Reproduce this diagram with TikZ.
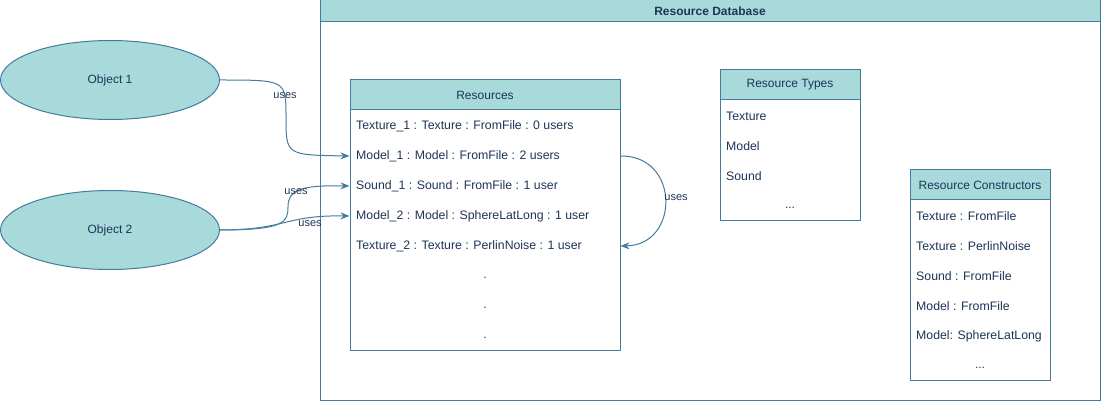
\documentclass[tikz,border=0pt]{standalone}
\usepackage{fontspec}
\setmainfont{Liberation Sans}
\usetikzlibrary{shapes.geometric, arrows.meta, positioning}
\definecolor{dbfill}{HTML}{A8DADC}
\definecolor{dbline}{HTML}{457B9D}
\definecolor{dbtext}{HTML}{1D3557}
\tikzset{
  box/.style={draw=dbline, line width=1pt, fill=white, inner sep=0pt},
  head/.style={draw=dbline, line width=1pt, fill=dbfill, text=dbtext, inner sep=0pt, font=\fontsize{12}{14}\selectfont},
  row/.style={anchor=west, text=dbtext, inner sep=0pt, font=\fontsize{12.3}{14}\selectfont},
  more/.style={text=dbtext, inner sep=0pt, font=\fontsize{12}{14}\selectfont},
  obj/.style={ellipse, draw=dbline, line width=1pt, fill=dbfill, text=dbtext, minimum width=219pt, minimum height=79pt, inner sep=0pt, font=\fontsize{12}{14}\selectfont},
  link/.style={draw=dbline, line width=1pt, -{Stealth[length=9pt,width=7pt]}},
  lbl/.style={text=dbtext, inner sep=0pt, font=\fontsize{11}{13}\selectfont}
}

\begin{document}
\begin{tikzpicture}[x=1pt, y=-1pt]
  \useasboundingbox (0,0) rectangle (1101,401);

  % database frame
  \node[box, minimum width=780pt, minimum height=400pt] (db) at (710,200) {};
  \node[head, minimum width=780pt, minimum height=22pt, anchor=north, font=\fontsize{12}{14}\selectfont\bfseries] (dbhead) at (db.north) {Resource Database};

  % objects
  \node[obj] (obj1) at (110,80) {Object 1};
  \node[obj] (obj2) at (110,230) {Object 2};

  % resources
  \node[box, minimum width=270pt, minimum height=270pt] (res) at (485,215) {};
  \node[head, minimum width=270pt, minimum height=30pt, anchor=north] (reshead) at (res.north) {Resources};
  \node[row] (r1) at (356,126) {Texture\_1 : Texture : FromFile : 0 users};
  \node[row] (r2) at (356,156) {Model\_1 : Model : FromFile : 2 users};
  \node[row] (r3) at (356,186) {Sound\_1 : Sound : FromFile : 1 user};
  \node[row] (r4) at (356,216) {Model\_2 : Model : SphereLatLong : 1 user};
  \node[row] (r5) at (356,246) {Texture\_2 : Texture : PerlinNoise : 1 user};
  \node[more] (d1) at (485,278) {.};
  \node[more] (d2) at (485,308) {.};
  \node[more] (d3) at (485,338) {.};

  % resource types
  \node[box, minimum width=140pt, minimum height=150pt] (types) at (790,145) {};
  \node[head, minimum width=140pt, minimum height=30pt, anchor=north] (typeshead) at (types.north) {Resource Types};
  \node[row] (t1) at (726,116) {Texture};
  \node[row] (t2) at (726,146) {Model};
  \node[row] (t3) at (726,176) {Sound};
  \node[more] (tdots) at (790,208) {...};

  % resource constructors
  \node[box, minimum width=140pt, minimum height=210pt] (ctors) at (980,275) {};
  \node[head, minimum width=140pt, minimum height=30pt, anchor=north] (ctorshead) at (ctors.north) {Resource Constructors};
  \node[row] (c1) at (916,216) {Texture : FromFile};
  \node[row] (c2) at (916,246) {Texture : PerlinNoise};
  \node[row] (c3) at (916,276) {Sound : FromFile};
  \node[row] (c4) at (916,306) {Model : FromFile};
  \node[row] (c5) at (916,336) {Model: SphereLatLong};
  \node[more] (cdots) at (980,368) {...};

  % links
  \draw[link] (obj1.east) .. controls (286,80) .. (286,117) .. controls (286,155) .. (r2 -| res.west);
  \node[lbl] (u1) at (285,96) {uses};
  \draw[link] (obj2.east) .. controls (285,230) and (288,222) .. (288,207) .. controls (288,190) and (300,185) .. (r3 -| res.west);
  \node[lbl] (u2) at (296,192) {uses};
  \draw[link] (obj2.east) .. controls (286,230) and (284,215) .. (r4 -| res.west);
  \node[lbl] (u3) at (310,224) {uses};
  \draw[link] (r2 -| res.east) .. controls (680,155) and (680,245) .. (r5 -| res.east);
  \node[lbl] (u4) at (676,198) {uses};
\end{tikzpicture}
\end{document}
